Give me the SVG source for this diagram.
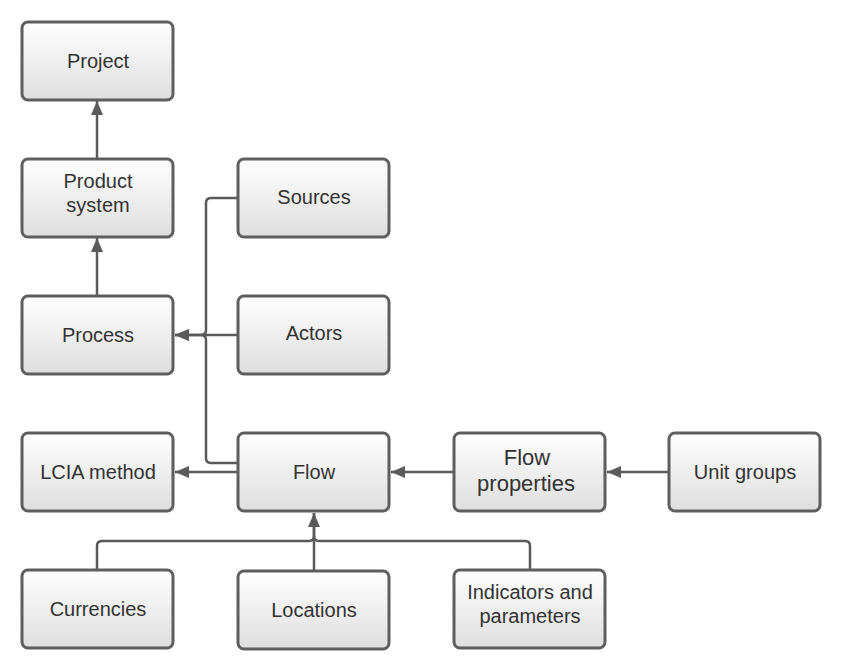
<svg xmlns="http://www.w3.org/2000/svg" width="842" height="671" viewBox="0 0 842 671">
<defs>
<linearGradient id="g" x1="0" y1="0" x2="0" y2="1">
<stop offset="0" stop-color="#ffffff"/>
<stop offset="1" stop-color="#dedede"/>
</linearGradient>
<marker id="ah" viewBox="0 0 14 12" refX="14" refY="6" markerWidth="14" markerHeight="12" markerUnits="userSpaceOnUse" orient="auto">
<path d="M0,0 L14,6 L0,12 Z" fill="#5a5a5a"/>
</marker>
<style>
.box{fill:url(#g);stroke:#5e5e5e;stroke-width:3}
.t{font-family:"Liberation Sans",Arial,sans-serif;font-size:20px;fill:#333;text-anchor:middle;dominant-baseline:central}
.tb{font-size:22px}
.c{fill:none;stroke:#5a5a5a;stroke-width:2.5}
</style>
</defs>
<g id="connectors">
<path class="c" d="M97,158 V101" marker-end="url(#ah)"/>
<path class="c" d="M97,296 V238" marker-end="url(#ah)"/>
<path class="c" d="M238,198 H211 Q206,198 206,203 V330 Q206,335 201,335 H175" marker-end="url(#ah)"/>
<path class="c" d="M238,463 H211 Q206,463 206,458 V340 Q206,335 201,335"/>
<path class="c" d="M238,335 H175" marker-end="url(#ah)"/>
<path class="c" d="M238,472 H175" marker-end="url(#ah)"/>
<path class="c" d="M454,472 H391" marker-end="url(#ah)"/>
<path class="c" d="M669,472 H607" marker-end="url(#ah)"/>
<path class="c" d="M97,570 V546 Q97,541 102,541 H309 Q314,541 314,536 V513" marker-end="url(#ah)"/>
<path class="c" d="M314,571 V513"/>
<path class="c" d="M530,570 V546 Q530,541 525,541 H319 Q314,541 314,536"/>
</g>
<g id="project"><rect class="box" x="22" y="22" width="151" height="78" rx="6"/><text class="t" x="98" y="61">Project</text></g>
<g id="product-system"><rect class="box" x="22" y="159" width="151" height="78" rx="6"/><text class="t" x="98" y="181">Product</text><text class="t" x="98" y="205">system</text></g>
<g id="process"><rect class="box" x="22" y="296" width="151" height="78" rx="6"/><text class="t" x="98" y="335">Process</text></g>
<g id="lcia-method"><rect class="box" x="22" y="433" width="151" height="78" rx="6"/><text class="t" x="98" y="472">LCIA method</text></g>
<g id="currencies"><rect class="box" x="22" y="570" width="151" height="78" rx="6"/><text class="t" x="98" y="609">Currencies</text></g>
<g id="sources"><rect class="box" x="238" y="159" width="151" height="78" rx="6"/><text class="t" x="314" y="197">Sources</text></g>
<g id="actors"><rect class="box" x="238" y="296" width="151" height="78" rx="6"/><text class="t" x="314" y="333">Actors</text></g>
<g id="flow"><rect class="box" x="238" y="433" width="151" height="78" rx="6"/><text class="t" x="314" y="472">Flow</text></g>
<g id="locations"><rect class="box" x="238" y="571" width="151" height="78" rx="6"/><text class="t" x="314" y="610">Locations</text></g>
<g id="flow-properties"><rect class="box" x="454" y="433" width="151" height="78" rx="6"/><text class="t tb" x="527" y="457">Flow</text><text class="t tb" x="526" y="483">properties</text></g>
<g id="unit-groups"><rect class="box" x="669" y="433" width="151" height="78" rx="6"/><text class="t" x="745" y="472">Unit groups</text></g>
<g id="indicators"><rect class="box" x="454" y="570" width="151" height="78" rx="6"/><text class="t" x="530" y="592">Indicators and</text><text class="t" x="530" y="616">parameters</text></g>
</svg>
